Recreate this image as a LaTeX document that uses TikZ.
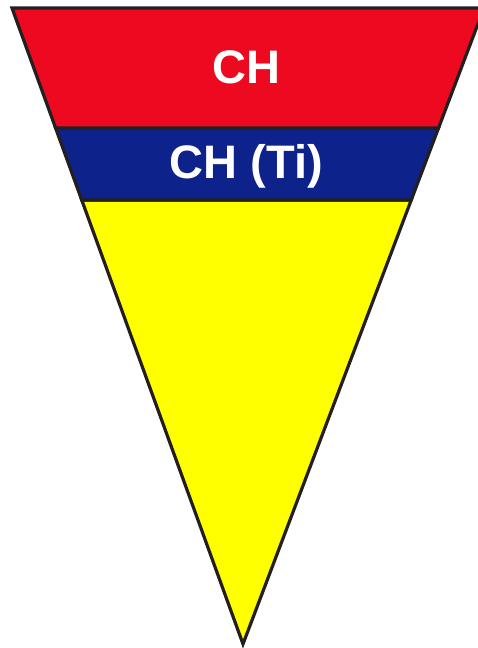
\documentclass[tikz,border=0pt]{standalone}
\usepackage{fontspec}
\setmainfont{Liberation Sans}
\usetikzlibrary{calc}
\definecolor{bandred}{RGB}{237,10,32}
\definecolor{bandblue}{RGB}{14,34,139}
\definecolor{bandyellow}{RGB}{255,255,0}
\definecolor{edgegray}{RGB}{35,31,32}
\begin{document}
\begin{tikzpicture}[
    x=1pt, y=-1pt,
    band/.style={draw=edgegray, line width=3.2pt, line join=miter},
    lbl/.style={text=white, font=\fontsize{47}{50}\selectfont\bfseries,
      inner sep=0pt, anchor=base},
  ]
  \clip (0,0) rectangle (478,648);
  \fill[white] (0,0) rectangle (478,648);
  % corners of the triangle
  \coordinate (tl) at (12,8);
  \coordinate (tr) at (484,8);
  \coordinate (apex) at (243,644);
  \coordinate (rbl) at ($(tl)!0.1887!(apex)$);
  \coordinate (rbr) at ($(tr)!0.1887!(apex)$);
  \coordinate (byl) at ($(tl)!0.3019!(apex)$);
  \coordinate (byr) at ($(tr)!0.3019!(apex)$);
  % bands
  \filldraw[band, fill=bandyellow] (byl) -- (byr) -- (apex) -- cycle;
  \filldraw[band, fill=bandblue] (rbl) -- (rbr) -- (byr) -- (byl) -- cycle;
  \filldraw[band, fill=bandred] (tl) -- (tr) -- (rbr) -- (rbl) -- cycle;
  % labels
  \node[lbl] (top) at (246.5,83) {CH};
  \node[lbl] (mid) at (246.5,178) {CH (Ti)};
\end{tikzpicture}
\end{document}
